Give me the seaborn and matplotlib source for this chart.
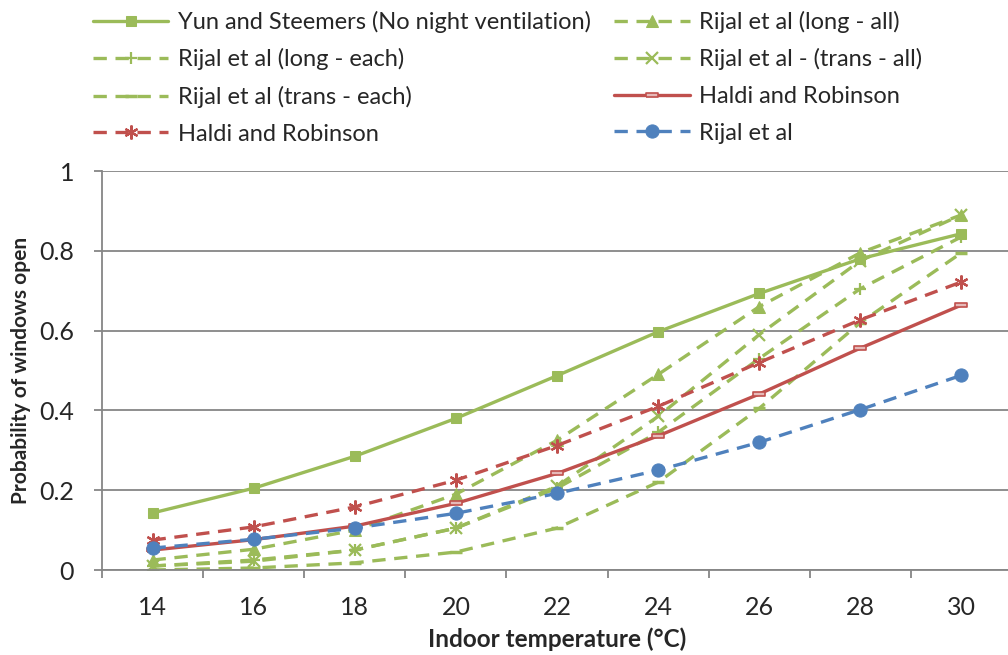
import matplotlib
matplotlib.use("Agg")
import matplotlib.pyplot as plt
import seaborn as sns
import numpy as np

temps = [14, 16, 18, 20, 22, 24, 26, 28, 30]
yun_steemers = [0.143, 0.205, 0.285, 0.38, 0.487, 0.597, 0.693, 0.78, 0.843]
rijal_long_all = [0.025, 0.052, 0.10, 0.19, 0.325, 0.49, 0.66, 0.795, 0.89]
rijal_long_each = [0.01, 0.025, 0.05, 0.105, 0.205, 0.345, 0.53, 0.705, 0.835]
rijal_trans_all = [0.01, 0.022, 0.05, 0.105, 0.21, 0.385, 0.59, 0.775, 0.89]
rijal_trans_each = [0.0, 0.005, 0.018, 0.045, 0.105, 0.22, 0.405, 0.62, 0.795]
haldi_solid = [0.05, 0.076, 0.11, 0.167, 0.242, 0.336, 0.441, 0.556, 0.664]
haldi_dashed = [0.075, 0.108, 0.158, 0.225, 0.312, 0.41, 0.52, 0.627, 0.722]
rijal = [0.055, 0.077, 0.105, 0.142, 0.192, 0.25, 0.32, 0.402, 0.488]

labels = ["Yun and Steemers (No night ventilation)", "Rijal et al (long - all)",
          "Rijal et al (long - each)", "Rijal et al - (trans - all)",
          "Rijal et al (trans - each)", "Haldi and Robinson",
          "Haldi and Robinson", "Rijal et al"]
y_ticks = [0, 0.2, 0.4, 0.6, 0.8, 1]
y_tick_labels = ["0", "0.2", "0.4", "0.6", "0.8", "1"]

GREEN = "#9BBB59"
RED = "#C0504D"
BLUE = "#4F81BD"

sns.set_theme(style="white")
plt.rcParams["font.family"] = ["Lato", "DejaVu Sans"]

fig = plt.figure(figsize=(10.08, 6.55), dpi=100)
ax = fig.add_axes([102/1008, 85/655, 910/1008, 399/655])

lw = 2.4
dash = (0, (4, 2.6))
rect_marker = [(-1, -0.32), (1, -0.32), (1, 0.32), (-1, 0.32), (-1, -0.32)]

series = [
    (yun_steemers, dict(color=GREEN, linestyle="-", marker="s", markersize=7, mec=GREEN, mfc=GREEN)),
    (rijal_long_all, dict(color=GREEN, linestyle=dash, marker="^", markersize=8.5, mec=GREEN, mfc=GREEN)),
    (rijal_long_each, dict(color=GREEN, linestyle=dash, marker="+", markersize=9, mew=1.6, mec=GREEN)),
    (rijal_trans_all, dict(color=GREEN, linestyle=dash, marker="x", markersize=8, mew=1.6, mec=GREEN)),
    (rijal_trans_each, dict(color=GREEN, linestyle=dash, marker="_", markersize=8, mew=2.5, mec=GREEN)),
    (haldi_solid, dict(color=RED, linestyle="-", marker=rect_marker, markersize=9, mew=1.2, mec=RED, mfc="#E6B9B8")),
    (haldi_dashed, dict(color=RED, linestyle=dash, marker=(6, 2, 0), markersize=10, mew=1.6, mec=RED)),
    (rijal, dict(color=BLUE, linestyle=dash, marker="o", markersize=9.5, mec=BLUE, mfc=BLUE)),
]

handles = []
for (vals, kw), lab in zip(series, labels):
    n_before = len(ax.lines)
    sns.lineplot(x=temps, y=vals, ax=ax, linewidth=lw, label=lab, legend=False, **kw)
    handles.append(ax.lines[n_before])

ax.set_xlim(13, 31)
ax.set_ylim(0, 1)
ax.set_yticks(y_ticks)
ax.set_yticklabels(y_tick_labels)
ax.yaxis.grid(True, color="#868686", linewidth=1.3)
ax.xaxis.grid(False)
ax.set_axisbelow(True)

ax.set_xticks(np.arange(13, 31, 2))
ax.set_xticklabels([])
ax.set_xticks(temps, minor=True)
ax.set_xticklabels([str(t) for t in temps], minor=True)
ax.tick_params(axis="x", which="major", length=6, width=1.3, color="#868686", direction="out", bottom=True)
ax.tick_params(axis="x", which="minor", length=0, labelsize=18, pad=19)
ax.tick_params(axis="y", length=6, width=1.3, color="#868686", direction="out", left=True, labelsize=18, pad=14)

for s in ["top", "right"]:
    ax.spines[s].set_visible(False)
for s in ["left", "bottom"]:
    ax.spines[s].set_color("#868686")
    ax.spines[s].set_linewidth(1.3)

ax.set_xlabel("Indoor temperature (°C)", fontsize=17.5, fontweight="bold", labelpad=6)
ax.set_ylabel("Probability of windows open", fontsize=15, fontweight="bold", labelpad=6)

order = [0, 2, 4, 6, 1, 3, 5, 7]
fig.legend([handles[i] for i in order], [labels[i] for i in order],
           loc="upper left", bbox_to_anchor=(88/1008, 1.0 - 6/655), ncol=2, frameon=False,
           fontsize=17, handlelength=3.2, handletextpad=0.4, columnspacing=1.0,
           labelspacing=0.66, borderaxespad=0.0, borderpad=0.2)

fig.savefig("out.png", dpi=100)
